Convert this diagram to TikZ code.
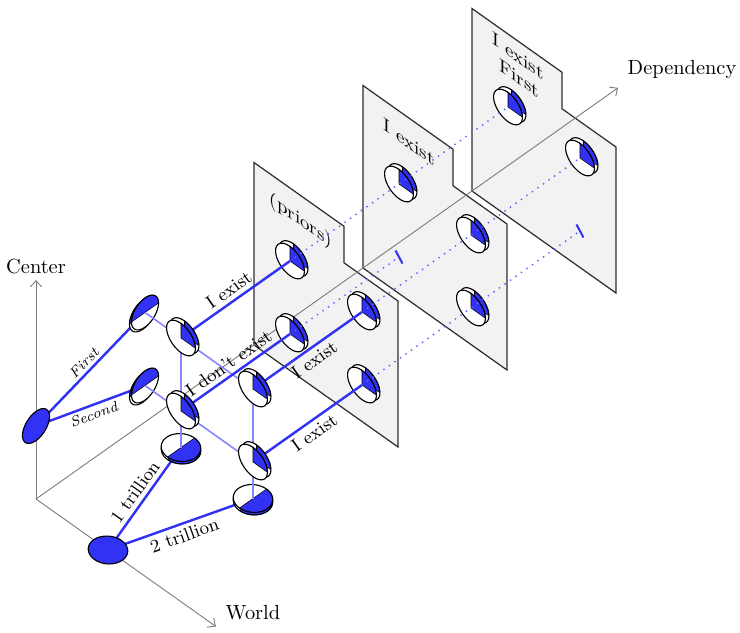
\documentclass[tikz,border=0pt]{standalone}
\usetikzlibrary{calc,arrows.meta}
\definecolor{cblue}{RGB}{50,50,245}
\definecolor{lblue}{RGB}{135,135,255}
\definecolor{dblue}{RGB}{100,100,255}
\definecolor{planefill}{RGB}{242,242,242}
\definecolor{planeline}{RGB}{45,45,45}
\definecolor{axisgray}{RGB}{125,125,125}
\newcommand\myface[6]{%
  \fill[white] plot[domain=0:360,samples=73] ({(#1)*cos(\x)+(#3)*sin(\x)},{(#2)*cos(\x)+(#4)*sin(\x)}) -- cycle;
  \filldraw[fill=cblue,draw=black,line width=0.25pt] (0,0) -- plot[domain=#5:#6,samples=37] ({(#1)*cos(\x)+(#3)*sin(\x)},{(#2)*cos(\x)+(#4)*sin(\x)}) -- cycle;
  \draw[line width=0.55pt] plot[domain=0:360,samples=73] ({(#1)*cos(\x)+(#3)*sin(\x)},{(#2)*cos(\x)+(#4)*sin(\x)}) -- cycle;}
\newcommand\mydisc[9]{%
  \begin{scope}[shift={(#1)}]
    \begin{scope}[shift={(#8,#9)}]\myface{#2}{#3}{#4}{#5}{#6}{#7}\end{scope}
    \myface{#2}{#3}{#4}{#5}{#6}{#7}
  \end{scope}}
\newcommand\myfulldisc[5]{%
  \begin{scope}[shift={(#1)}]
    \filldraw[fill=cblue,draw=black,line width=0.55pt] plot[domain=0:360,samples=73] ({(#2)*cos(\x)+(#4)*sin(\x)},{(#3)*cos(\x)+(#5)*sin(\x)}) -- cycle;
  \end{scope}}
\newcommand\coinwc[1]{\mydisc{#1}{14.4}{10.2}{0}{-14.6}{0}{90}{3.5}{-2.5}}
\newcommand\coincd[1]{\mydisc{#1}{13.5}{-9.5}{0}{-14.6}{0}{180}{-2}{2}}
\newcommand\coinwd[1]{\mydisc{#1}{14.4}{10.2}{13.5}{-9.5}{-90}{90}{0}{2.5}}
\begin{document}
\begin{tikzpicture}[x=0.49pt,y=-0.49pt,
  plane/.style={fill=planefill,draw=planeline,line width=0.6pt,line join=miter},
  axis/.style={draw=axisgray,line width=0.45pt,-{Straight Barb[length=3pt,width=5.5pt]}},
  solidlink/.style={draw=cblue,line width=1.2pt},
  lightlink/.style={draw=lblue,line width=0.8pt},
  dotlink/.style={draw=dblue,line width=1pt,line cap=round,dash pattern=on 0pt off 3.3pt},
  elabel/.style={font=\small,sloped,inner sep=2pt},
  slabel/.style={font=\scriptsize\itshape,sloped,inner sep=1.5pt},
  plabel/.style={font=\small,yslant=-0.708,inner sep=1pt},
  tickmark/.style={draw=cblue,line width=1pt}]
\useasboundingbox (0,0) rectangle (740,632);
\begin{scope}[shift={(36,499)}]
\begin{scope}[x={(35.28pt,-24.99pt)},y={(0pt,35.77pt)},z={(53.41pt,37.73pt)}]
  \coordinate (O) at (0,0,0);
  \coordinate (Ctip) at (0,3,0);
  \coordinate (Wtip) at (2.5,0,0);
  \coordinate (Dtip) at (0,0,5.34);
  \coordinate (A) at (0,1,0);
  \coordinate (D) at (1,0,0);
  \coordinate (B) at (0,1.5,1);
  \coordinate (C) at (0,0.5,1);
  \coordinate (E) at (0.5,0,1);
  \coordinate (F) at (1.5,0,1);
  \coordinate (G) at (0.5,1.5,1);
  \coordinate (H) at (0.5,0.5,1);
  \coordinate (I) at (1.5,1.5,1);
  \coordinate (J) at (1.5,0.5,1);
  \foreach \k/\n in {2/1,3/2,4/3}{
    \coordinate (P\n a) at (0.5,1.5,\k);
    \coordinate (P\n b) at (0.5,0.5,\k);
    \coordinate (P\n c) at (1.5,1.5,\k);
    \coordinate (P\n d) at (1.5,0.5,\k);
    \coordinate (pl\n a) at (0,0,\k);
    \coordinate (pl\n b) at (2,0,\k);
    \coordinate (pl\n c) at (2,2,\k);
    \coordinate (pl\n d) at (1.25,2,\k);
    \coordinate (pl\n e) at (1.25,2.5,\k);
    \coordinate (pl\n f) at (0,2.5,\k);
  }
\end{scope}
\end{scope}
% planes, back to front
\foreach \n in {3,2,1}{
  \draw[plane] (pl\n a) -- (pl\n b) -- (pl\n c) -- (pl\n d) -- (pl\n e) -- (pl\n f) -- cycle;
}
% axes
\draw[axis] (O) -- (Ctip);
\draw[axis] (O) -- (Wtip);
\draw[axis] (O) -- (Dtip);
\node (tcenter) at (36,267) {Center};
\node (tworld) at (253,613) {World};
\node (tdep) at (682,70) {Dependency};
% plane labels (lying in the planes)
\node[plabel] (lab1) at (301,221) {(priors)};
\node[plabel] (lab2) at (409,142) {I exist};
\node[plabel] (lab3a) at (518,56) {I exist};
\node[plabel] (lab3b) at (519,78) {First};
% coins on the planes
\coinwc{P3a}\coinwc{P3c}
\coinwc{P2a}\coinwc{P2c}\coinwc{P2d}
\coinwc{P1a}\coinwc{P1b}\coinwc{P1c}\coinwc{P1d}
% dotted continuations
\draw[dotlink] (P1a) -- (P3a);
\draw[dotlink] (P1b) -- (P2b);
\draw[dotlink] (P1c) -- (P3c);
\draw[dotlink] (P1d) -- (P3d);
\draw[tickmark] ($(P2b)+(-3.5,-6.5)$) -- ($(P2b)+(3.5,6.5)$);
\draw[tickmark] ($(P3d)+(-3.5,-6.5)$) -- ($(P3d)+(3.5,6.5)$);
% root links
\draw[solidlink] (A) -- node[slabel,above]{First} (B);
\draw[solidlink] (A) -- node[slabel,below]{Second} (C);
\draw[solidlink] (D) -- node[elabel,above]{1 trillion} (E);
\draw[solidlink] (D) -- node[elabel,below]{2 trillion} (F);
\myfulldisc{A}{13.5}{-9.5}{0}{-14.6}
\myfulldisc{D}{14.4}{10.2}{13.5}{-9.5}
\coincd{B}\coincd{C}
\coinwd{E}\coinwd{F}
% grid links
\draw[lightlink] (B) -- (G) -- (I);
\draw[lightlink] (C) -- (H) -- (J);
\draw[lightlink] (E) -- (H) -- (G);
\draw[lightlink] (F) -- (J) -- (I);
% links to plane 1
\draw[solidlink] (G) -- node[elabel,above]{I exist} (P1a);
\draw[solidlink] (H) -- node[elabel,above]{I don't exist} (P1b);
\draw[solidlink] (I) -- node[elabel,below]{I exist} (P1c);
\draw[solidlink] (J) -- node[elabel,below]{I exist} (P1d);
\coinwc{G}\coinwc{H}\coinwc{I}\coinwc{J}
\end{tikzpicture}
\end{document}
